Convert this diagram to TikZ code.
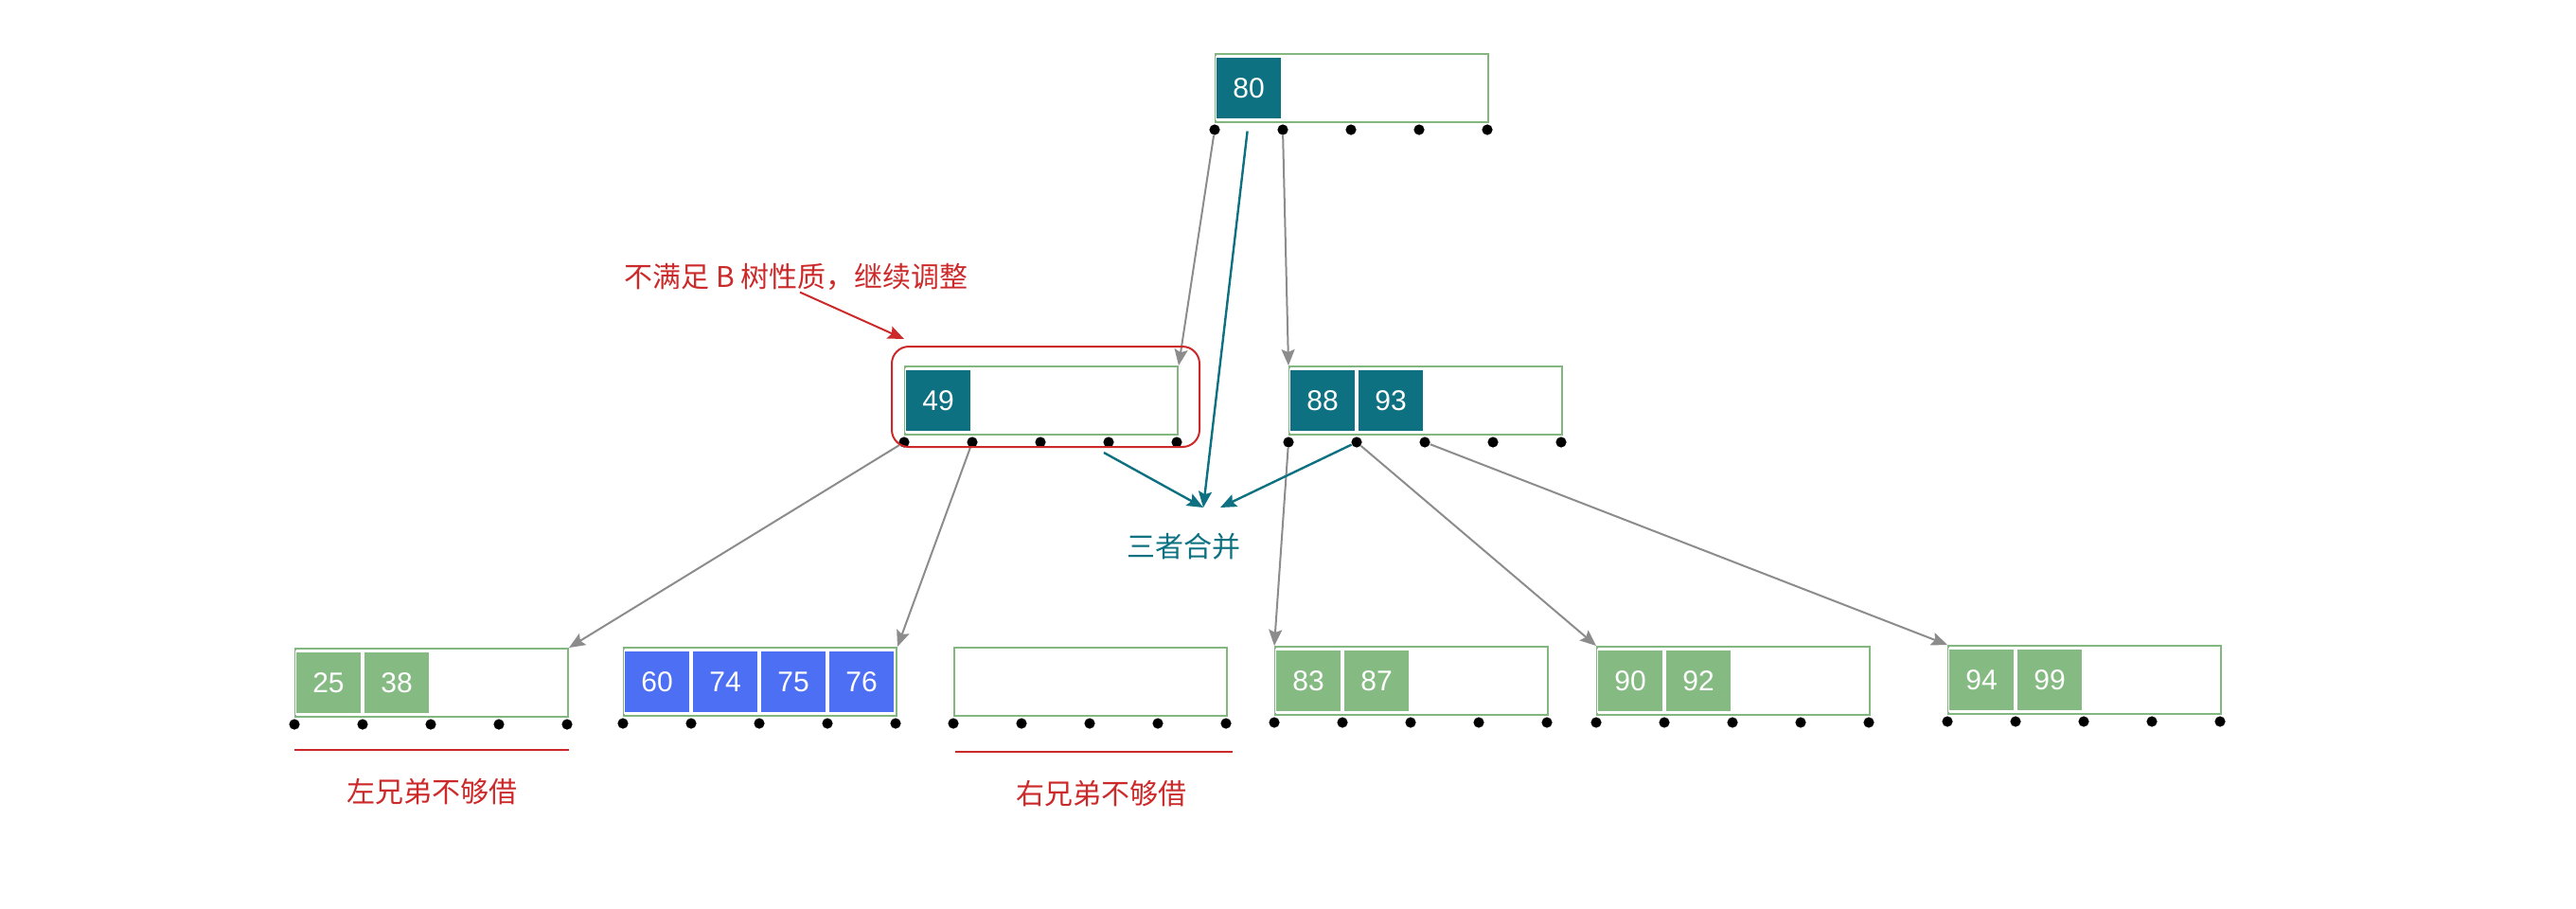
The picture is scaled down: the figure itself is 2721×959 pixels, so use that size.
\documentclass[tikz,border=0pt]{standalone}
\usepackage{fontspec}
\setmainfont{Liberation Sans}
\newfontfamily\cjk{Noto Sans CJK SC}
\usetikzlibrary{arrows.meta}

\definecolor{keyteal}{HTML}{0E7182}
\definecolor{keygreen}{HTML}{85BB82}
\definecolor{keyblue}{HTML}{4C6FF4}
\definecolor{boxgreen}{HTML}{82B77F}
\definecolor{linkgray}{HTML}{8C8C8C}
\definecolor{warnred}{HTML}{CC2A2A}

\begin{document}
\begin{tikzpicture}[
		x=0.5pt,y=-0.5pt,
		>={Stealth[length=8.5pt,width=7pt,inset=1.5pt]},
		bnode/.style   ={rectangle,draw=boxgreen,line width=1pt,minimum width=144pt,minimum height=36pt,inner sep=0pt},
		key/.style     ={rectangle,draw=white,line width=0.6pt,minimum width=34.6pt,minimum height=33pt,inner sep=0pt,text=white,font=\fontsize{15}{18}\selectfont},
		tealkey/.style ={key,fill=keyteal},
		greenkey/.style={key,fill=keygreen},
		bluekey/.style ={key,fill=keyblue},
		ptr/.style     ={circle,fill=black,minimum size=5.6pt,inner sep=0pt},
		link/.style    ={draw=linkgray,line width=1pt,->},
		merge/.style   ={draw=keyteal,line width=1.2pt,->},
		warn/.style    ={draw=warnred,line width=1pt},
		note/.style    ={font=\cjk\fontsize{15}{18}\selectfont,text=warnred,inner sep=0pt}
		]

		\useasboundingbox (0,0) rectangle (2721,959);

		% ---- root ----
		\node[bnode] (root) at (1428,93) {};
		\foreach \k [count=\i from 0] in {80}
			\path (root.west) ++(18pt+36pt*\i,0pt) node[tealkey] (root-k\i) {\k};
		\foreach \i in {0,...,4}
			\path (root.south west) ++(36pt*\i,-3.5pt) node[ptr] (root-p\i) {};

		% ---- second level ----
		\node[bnode] (n49) at (1100,423) {};
		\foreach \k [count=\i from 0] in {49}
			\path (n49.west) ++(18pt+36pt*\i,0pt) node[tealkey] (n49-k\i) {\k};
		\foreach \i in {0,...,4}
			\path (n49.south west) ++(36pt*\i,-3.5pt) node[ptr] (n49-p\i) {};

		\node[bnode] (n88) at (1506,423) {};
		\foreach \k [count=\i from 0] in {88,93}
			\path (n88.west) ++(18pt+36pt*\i,0pt) node[tealkey] (n88-k\i) {\k};
		\foreach \i in {0,...,4}
			\path (n88.south west) ++(36pt*\i,-3.5pt) node[ptr] (n88-p\i) {};

		% ---- leaves ----
		\node[bnode] (l1) at (456,721) {};
		\foreach \k [count=\i from 0] in {25,38}
			\path (l1.west) ++(18pt+36pt*\i,0pt) node[greenkey] (l1-k\i) {\k};
		\foreach \i in {0,...,4}
			\path (l1.south west) ++(36pt*\i,-3.5pt) node[ptr] (l1-p\i) {};

		\node[bnode] (l2) at (803,720) {};
		\foreach \k [count=\i from 0] in {60,74,75,76}
			\path (l2.west) ++(18pt+36pt*\i,0pt) node[bluekey] (l2-k\i) {\k};
		\foreach \i in {0,...,4}
			\path (l2.south west) ++(36pt*\i,-3.5pt) node[ptr] (l2-p\i) {};

		\node[bnode] (l3) at (1152,720) {};
		\foreach \i in {0,...,4}
			\path (l3.south west) ++(36pt*\i,-3.5pt) node[ptr] (l3-p\i) {};

		\node[bnode] (l4) at (1491,719) {};
		\foreach \k [count=\i from 0] in {83,87}
			\path (l4.west) ++(18pt+36pt*\i,0pt) node[greenkey] (l4-k\i) {\k};
		\foreach \i in {0,...,4}
			\path (l4.south west) ++(36pt*\i,-3.5pt) node[ptr] (l4-p\i) {};

		\node[bnode] (l5) at (1831,719) {};
		\foreach \k [count=\i from 0] in {90,92}
			\path (l5.west) ++(18pt+36pt*\i,0pt) node[greenkey] (l5-k\i) {\k};
		\foreach \i in {0,...,4}
			\path (l5.south west) ++(36pt*\i,-3.5pt) node[ptr] (l5-p\i) {};

		\node[bnode] (l6) at (2202,718) {};
		\foreach \k [count=\i from 0] in {94,99}
			\path (l6.west) ++(18pt+36pt*\i,0pt) node[greenkey] (l6-k\i) {\k};
		\foreach \i in {0,...,4}
			\path (l6.south west) ++(36pt*\i,-3.5pt) node[ptr] (l6-p\i) {};

		% ---- child pointers ----
		\draw[link] (root-p0) -- (n49.north east);
		\draw[link] (root-p1) -- (n88.north west);
		\draw[link] (n49-p0) -- (l1.north east);
		\draw[link] (n49-p1) -- (l2.north east);
		\draw[link] (n88-p0) -- (l4.north west);
		\draw[link] (n88-p1) -- (l5.north west);
		\draw[link] (n88-p2) -- (l6.north west);

		% ---- underflow frame and note ----
		\node[rectangle,draw=warnred,line width=1pt,rounded corners=9pt,minimum width=162.5pt,minimum height=53pt] (frame) at (1104.5,419) {};
		\node[note] (warnnote) at (841,292) {不满足 B 树性质，继续调整};
		\draw[warn,->] ([xshift=2pt,yshift=-1pt]warnnote.south) -- ([shift={(7pt,3.5pt)}]frame.north west);

		% ---- merge of the three ----
		\coordinate (mergeL) at (1271,536);
		\coordinate (mergeR) at (1289,536);
		\coordinate (n49-out) at (1166,478);
		\draw[merge,shorten <=6pt] (root-k0.south) -- (mergeL);
		\draw[merge] (n49-out) -- (mergeL);
		\draw[merge] (n88-p1) -- (mergeR);
		\node[note,text=keyteal] (mergenote) at (1250,577) {三者合并};

		% ---- siblings cannot lend ----
		\draw[warn] ([yshift=-17pt]l1.south west) -- ([yshift=-17pt]l1.south east);
		\node[note] (leftnote) at (456,836) {左兄弟不够借};
		\draw[warn] ([shift={(1pt,-18.5pt)}]l3.south west) -- ([shift={(2.5pt,-18.5pt)}]l3.south east);
		\node[note] (rightnote) at (1163,838) {右兄弟不够借};

	\end{tikzpicture}
\end{document}
